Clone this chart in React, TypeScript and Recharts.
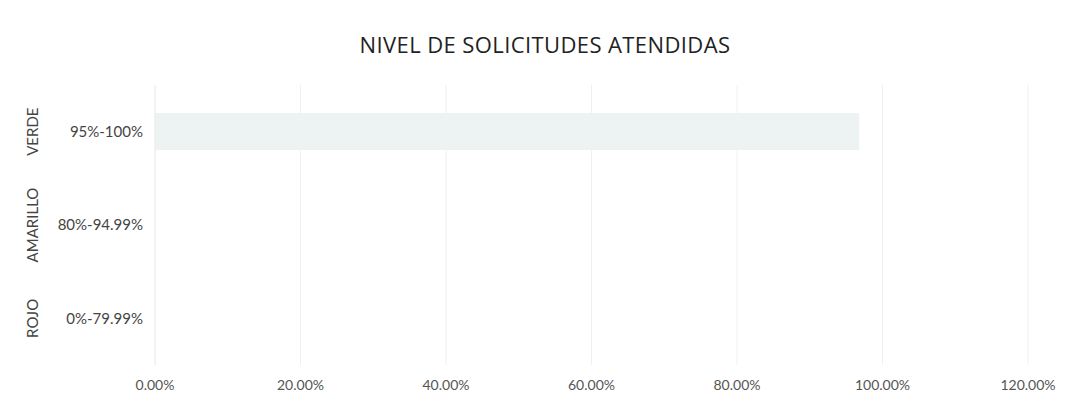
import { Bar, BarChart, CartesianGrid, XAxis, YAxis } from "recharts";

const groups = ["VERDE", "AMARILLO", "ROJO"];
const ranges = ["95%-100%", "80%-94.99%", "0%-79.99%"];
const values = [0.968, 0, 0];
const xTicks = [0, 0.2, 0.4, 0.6, 0.8, 1.0, 1.2];

const data = ranges.map((range, i) => ({ range, group: groups[i], value: values[i] }));

const font = "Lato, 'Open Sans', sans-serif";

function CategoryTick(props: any) {
  const { x, y, payload } = props;
  const idx = ranges.indexOf(payload.value);
  const group = groups[idx];
  return (
    <g>
      <text x={x - 4} y={y} dy="0.35em" textAnchor="end" fontSize={15} fill="#444" fontFamily={font}>
        {payload.value}
      </text>
      <text
        x={33}
        y={y}
        textAnchor="middle"
        dy="0.35em"
        fontSize={15}
        fill="#444"
        fontFamily={font}
        transform={`rotate(-90, 33, ${y})`}
      >
        {group}
      </text>
    </g>
  );
}

export default function App() {
  return (
    <div style={{ position: "absolute", left: 0, top: 0, width: 1070, height: 402, background: "#fff" }}>
      <div
        style={{
          position: "absolute",
          top: 29,
          left: 0,
          width: 1090,
          textAlign: "center",
          fontFamily: "'Open Sans', sans-serif",
          fontSize: 22,
          lineHeight: "30px",
          color: "#222",
          letterSpacing: 0.4,
        }}
      >
        NIVEL DE SOLICITUDES ATENDIDAS
      </div>
      <BarChart
        width={1070}
        height={402}
        data={data}
        layout="vertical"
        margin={{ top: 85, right: 42, bottom: 7, left: 5 }}
      >
        <CartesianGrid horizontal={false} stroke="#f0f0f0" />
        <XAxis
          type="number"
          domain={[0, 1.2]}
          ticks={xTicks}
          tickFormatter={(v: number) => `${(v * 100).toFixed(2)}%`}
          axisLine={false}
          tickLine={false}
          tickMargin={9}
          height={30}
          tick={{ fontSize: 14, fill: "#555", fontFamily: font }}
        />
        <YAxis
          type="category"
          dataKey="range"
          width={150}
          axisLine={{ stroke: "#eeeeee" }}
          tickLine={false}
          tick={<CategoryTick />}
        />
        <Bar dataKey="value" fill="#edf2f3" barSize={37} isAnimationActive={false} />
      </BarChart>
    </div>
  );
}
